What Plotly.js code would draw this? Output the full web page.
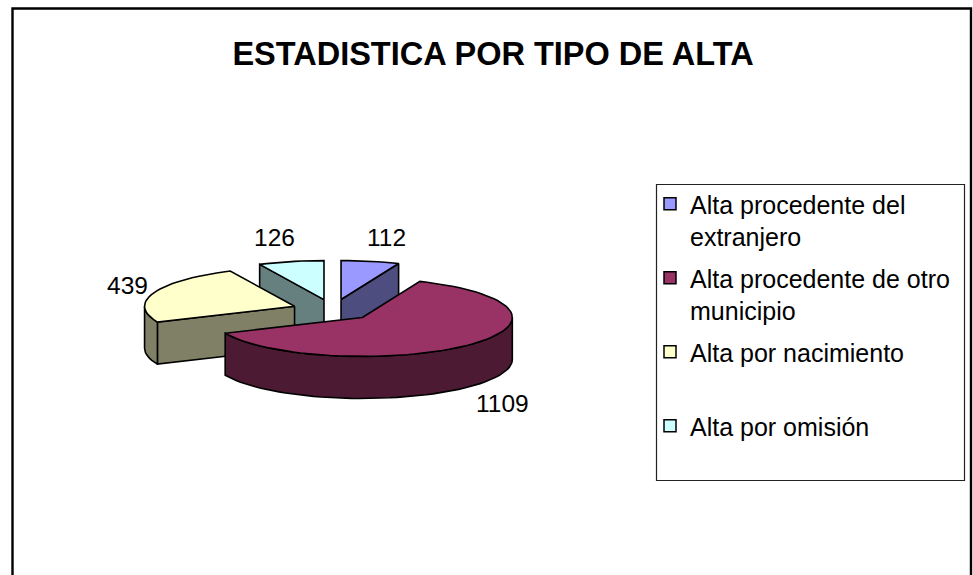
<!DOCTYPE html>
<html><head><meta charset="utf-8">
<script src="https://cdn.plot.ly/plotly-3.0.1.min.js"></script>
<style>html,body{margin:0;padding:0;background:#fff;overflow:hidden}#chart{width:973px;height:575px}</style>
</head><body><div id="chart"></div>
<script>
const categories = ["Alta procedente del<br>extranjero","Alta procedente de otro<br>municipio","Alta por nacimiento<br> ","Alta por omisión<br> "];
const values = [112, 1109, 439, 126];
const topColors = ["#9999FF","#993366","#FFFFCC","#CCFFFF"];
const sideColors = ["#4D4D80","#4D1A33","#808066","#668080"];
const drawOrder = [3,0,2,1];
const labelPos = [[386,237],[502,403],[127,285],[274,237]];

const FONT = "Liberation Sans, Arial, sans-serif";
const cx=333, cy=310, rx=150, ry=39, depth=42, explode=41;
const total = values.reduce((a,b)=>a+b,0);
const rad = d=>d*Math.PI/180;
const traces=[];
let acc=0;
const slices = values.map(v=>{const a0=acc/total*360; acc+=v; return {a0, a1:acc/total*360};});

function pt(c,a,dz){return [c[0]+rx*Math.sin(rad(a)), c[1]-ry*Math.cos(rad(a))+(dz||0)];}
function poly(pts,fill){
  const p=pts.concat([pts[0]]);
  traces.push({type:"scatter",mode:"lines",x:p.map(q=>q[0]),y:p.map(q=>q[1]),fill:"toself",fillcolor:fill,
    line:{color:"#000",width:1.6},showlegend:false,hoverinfo:"skip"});
}
function arc(c,a,b,dz){const out=[];const n=Math.max(2,Math.ceil(Math.abs(b-a)/3));for(let i=0;i<=n;i++)out.push(pt(c,a+(b-a)*i/n,dz));return out;}

drawOrder.forEach(i=>{
  const {a0,a1}=slices[i];
  const m=(a0+a1)/2;
  const c=[cx+explode*Math.sin(rad(m)), cy-explode*(ry/rx)*Math.cos(rad(m))];
  const side=sideColors[i];
  const radial=a=>{const p=pt(c,a);poly([c,p,[p[0],p[1]+depth],[c[0],c[1]+depth]],side);};
  if(Math.sin(rad(a1))>1e-6) radial(a1);
  if(Math.sin(rad(a0))<-1e-6) radial(a0);
  const s=Math.max(a0,90), e=Math.min(a1,270);
  if(e>s) poly(arc(c,s,e,0).concat(arc(c,e,s,depth)),side);
  poly([c].concat(arc(c,a0,a1,0)),topColors[i]);
});

categories.forEach((name,i)=>{
  traces.push({type:"scatter",mode:"markers",x:[null],y:[null],name:name,legendgroup:"g"+i,
    marker:{symbol:"square",size:12,color:topColors[i],line:{color:"#000",width:1.5}},hoverinfo:"skip"});
});

const annotations = values.map((v,i)=>({xref:"x",yref:"y",x:labelPos[i][0],y:labelPos[i][1],text:String(v),showarrow:false,
  font:{family:FONT,size:24.5,color:"#000"}}));

const shapes=[
  {type:"path",xref:"x",yref:"y",path:"M12.5 600 L12.5 8.5 L971 8.5 L971 600",line:{color:"#000",width:2.4},layer:"below"},
  {type:"rect",xref:"x",yref:"y",x0:656.5,y0:184.5,x1:964.5,y1:480.5,line:{color:"#222",width:1.2},fillcolor:"#fff",layer:"below"}
];

Plotly.newPlot("chart",traces,{
  width:973,height:575,margin:{l:0,r:0,t:0,b:0},paper_bgcolor:"#fff",plot_bgcolor:"#fff",
  title:{text:"<b>ESTADISTICA POR TIPO DE ALTA</b>",font:{family:FONT,size:32.5,color:"#000"},x:493/973,xanchor:"center",y:1-54/575,yanchor:"middle"},
  xaxis:{range:[0,973],visible:false,fixedrange:true},
  yaxis:{range:[575,0],visible:false,fixedrange:true},
  showlegend:true,
  legend:{x:650/973,y:1-181/575,xanchor:"left",yanchor:"top",bgcolor:"rgba(0,0,0,0)",borderwidth:0,valign:"top",
    font:{family:FONT,size:25,color:"#000"},tracegroupgap:6,traceorder:"grouped"},
  shapes,annotations
},{displayModeBar:false,staticPlot:true});
</script></body></html>
